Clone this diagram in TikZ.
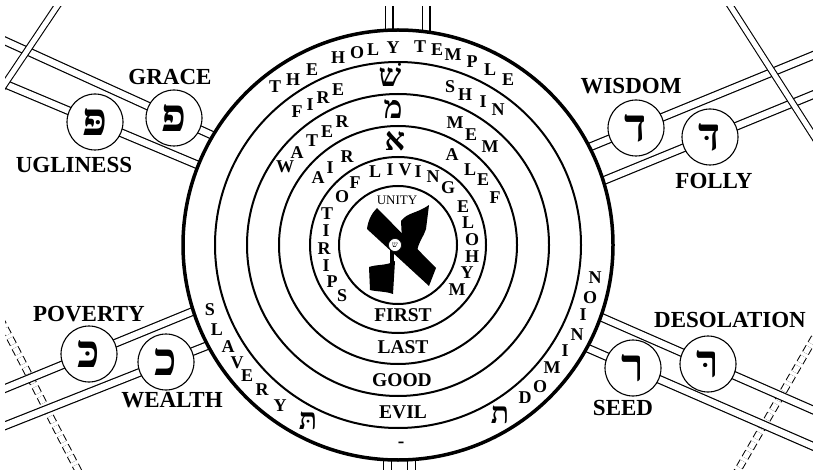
\documentclass[tikz,border=0pt]{standalone}
\usepackage{fontspec}
\setmainfont{Liberation Serif}
\newfontfamily\heb[Script=Hebrew]{Liberation Serif}
\begin{document}
\begin{tikzpicture}[x=1pt,y=-1pt,
  road/.style={line width=1.2pt, double=white, double distance=6.4pt},
  xroad/.style={line width=1.1pt, double=white, double distance=5pt},
  vroad/.style={line width=1.2pt, double=white, double distance=6.6pt},
  droad/.style={line width=1pt, double=white, double distance=5.5pt, dash pattern=on 7pt off 4pt},
  ring/.style={line width=2pt},
  lc/.style={circle, draw, line width=1.1pt, fill=white, minimum size=56pt, inner sep=0pt, font=\heb\fontsize{46}{46}\selectfont\bfseries},
  lab/.style={font=\fontsize{23}{23}\selectfont\bfseries, inner sep=0pt},
  rl/.style={font=\fontsize{18}{18}\selectfont\bfseries, inner sep=0pt},
  rw/.style={font=\fontsize{19.5}{19.5}\selectfont\bfseries, inner sep=0pt},
  hb/.style={font=\heb\fontsize{32}{32}\selectfont\bfseries, inner sep=0pt},
]
\useasboundingbox (0,0) rectangle (813,470);
\coordinate (O) at (398,245);
% road end points
\coordinate (a1) at (0,38.7);   \coordinate (a2) at (260,157);
\coordinate (b1) at (0,81.9);   \coordinate (b2) at (260,191.1);
\coordinate (c1) at (820,52.6); \coordinate (c2) at (540,167.4);
\coordinate (d1) at (820,91.9); \coordinate (d2) at (540,206.7);
\coordinate (e1) at (0,390.5);  \coordinate (e2) at (260,283.9);
\coordinate (f1) at (0,427.7);  \coordinate (f2) at (260,324.8);
\coordinate (g1) at (820,413);  \coordinate (g2) at (540,290.4);
\coordinate (h1) at (820,449.3);\coordinate (h2) at (540,327.5);
\coordinate (x1) at (61.2,0);   \coordinate (x2) at (-2.6,95);
\coordinate (y1) at (726.5,0);  \coordinate (y2) at (829,160);
\coordinate (p1) at (0,318.5);  \coordinate (p2) at (83,480);
\coordinate (q1) at (820,327.9);\coordinate (q2) at (732.2,480);
\coordinate (t1) at (389,0);    \coordinate (t2) at (389,60);
\coordinate (t3) at (426,0);    \coordinate (t4) at (426,60);
\coordinate (u1) at (387.5,430);\coordinate (u2) at (387.5,480);
\coordinate (u3) at (411.7,430);\coordinate (u4) at (411.7,480);
\begin{scope}
\clip (5,7) rectangle (813,470);
\draw[droad] (p1) -- (p2);
\draw[droad] (q1) -- (q2);
\foreach \s in {a,b,c,d,e,f,g,h} \draw[road] (\s1) -- (\s2);
\draw[xroad] (x1) -- (x2);
\draw[xroad] (y1) -- (y2);
\draw[vroad] (t1) -- (t2);
\draw[vroad] (t3) -- (t4);
\draw[vroad] (u1) -- (u2);
\draw[vroad] (u3) -- (u4);
\end{scope}
% concentric circles
\fill[white] (O) circle[radius=216pt];
\foreach \r in {59,88,119,151,183} \draw[ring] (O) circle[radius=\r pt];
\draw[line width=3.5pt] (O) circle[radius=215pt];
% letter circles
\node[lc] (cgrace) at (174,118) {פ};
\node[lc] (cugly) at (95,122) {פּ};
\node[lc] (cwis) at (636,128) {ד};
\node[lc] (cfol) at (710,137) {דּ};
\node[lc] (cpov) at (89,354) {כּ};
\node[lc] (cwea) at (166,362) {כ};
\node[lc] (cdes) at (708,364) {רּ};
\node[lc] (cseed) at (633,368) {ר};
% side labels
\node[lab] (lgrace) at (170,77) {GRACE};
\node[lab] (lugly) at (74,165) {UGLINESS};
\node[lab] (lwis) at (631,86) {WISDOM};
\node[lab] (lfol) at (714,181) {FOLLY};
\node[lab] (lpov) at (89,314) {POVERTY};
\node[lab] (lwea) at (172,400) {WEALTH};
\node[lab] (ldes) at (730,320) {DESOLATION};
\node[lab] (lseed) at (623,408) {SEED};
% ring letters
\foreach \x/\y/\t [count=\i] in {275/87/T,293/80/H,312/70/E,338/58/H,357/53/O,373/50/L,393/48/Y,420/47/T,437/50/E,453/55/M,472/62/P,490/70/L,508/80/E}
  \node[rl] (th\i) at (\x,\y) {\t};
\foreach \x/\y/\t [count=\i] in {210/310/S,217/330/L,228/347/A,237/363/V,247/376/E,262/390/R,280/406/Y}
  \node[rl] (sl\i) at (\x,\y) {\t};
\foreach \x/\y/\t [count=\i] in {525/398/D,540/387/O,552/368/M,565/351/I,577/335/N,583/315/I,590/298/O,595/278/N}
  \node[rl] (dm\i) at (\x,\y) {\t};
\foreach \x/\y/\t [count=\i] in {297/112/F,310/105/I,323/98/R,338/90/E}
  \node[rl] (fi\i) at (\x,\y) {\t};
\foreach \x/\y/\t [count=\i] in {450/87/S,465/95/H,483/102/I,498/110/N}
  \node[rl] (sh\i) at (\x,\y) {\t};
\foreach \x/\y/\t [count=\i] in {285/167/W,297/153/A,312/141/T,327/132/E,342/122/R}
  \node[rl] (wa\i) at (\x,\y) {\t};
\foreach \x/\y/\t [count=\i] in {455/123/M,471/135/E,490/147/M}
  \node[rl] (me\i) at (\x,\y) {\t};
\foreach \x/\y/\t [count=\i] in {318/178/A,330/168/I,347/157/R}
  \node[rl] (ai\i) at (\x,\y) {\t};
\foreach \x/\y/\t [count=\i] in {452/155/A,470/170/L,483/180/E,495/198/F}
  \node[rl] (al\i) at (\x,\y) {\t};
\foreach \x/\y/\t [count=\i] in {342/296/S,332/282/P,326/266/I,324/249/R,326/231/I,327/214/T,342/197/O,355/183/F,375/172/L,390/170/I,405/170/V,418/172/I,433/177/N,448/188/G,463/207/E,468/223/L,472/240/O,472/257/H,467/273/Y,457/290/M}
  \node[rl] (sp\i) at (\x,\y) {\t};
% bottom words
\node[rw] (wfirst) at (403,315) {FIRST};
\node[rw] (wlast) at (403,347) {LAST};
\node[rw] (wgood) at (402,380) {GOOD};
\node[rw] (wevil) at (403,412) {EVIL};
\node[rw] (wdash) at (401,445) {-};
% hebrew column
\node[hb] (hshin) at (390,75) {שׁ};
\node[hb] (hmem) at (393,109) {מ};
\node[hb] (halef) at (395,141) {א};
\node[hb, font=\heb\fontsize{30}{30}\selectfont\bfseries] (htav1) at (308,421) {תּ};
\node[hb, font=\heb\fontsize{30}{30}\selectfont\bfseries] (htav2) at (500,415) {ת};
% unity
\node[font=\fontsize{13}{13}\selectfont, inner sep=0pt] (unity) at (397,200) {UNITY};
% big aleph
\fill (367,229) .. controls (368,220) and (372,213) .. (377,208) -- (436,268) -- (429,286) -- cycle;
\fill (401,221) .. controls (408,212) and (416,214) .. (429,205) -- (426,229) .. controls (424,236) and (419,241) .. (417,251) -- (402,240) -- cycle;
\fill (390,249) rectangle (393.5,266);
\fill (369,267) .. controls (378,264) and (386,266) .. (395,261) -- (393,294) .. controls (385,291) and (378,292) .. (370,290) -- cycle;
\node[circle, draw, fill=white, line width=0.6pt, minimum size=13pt, inner sep=0pt, font=\heb\fontsize{8}{8}\selectfont] (mid) at (395,245) {ש};
\end{tikzpicture}
\end{document}
